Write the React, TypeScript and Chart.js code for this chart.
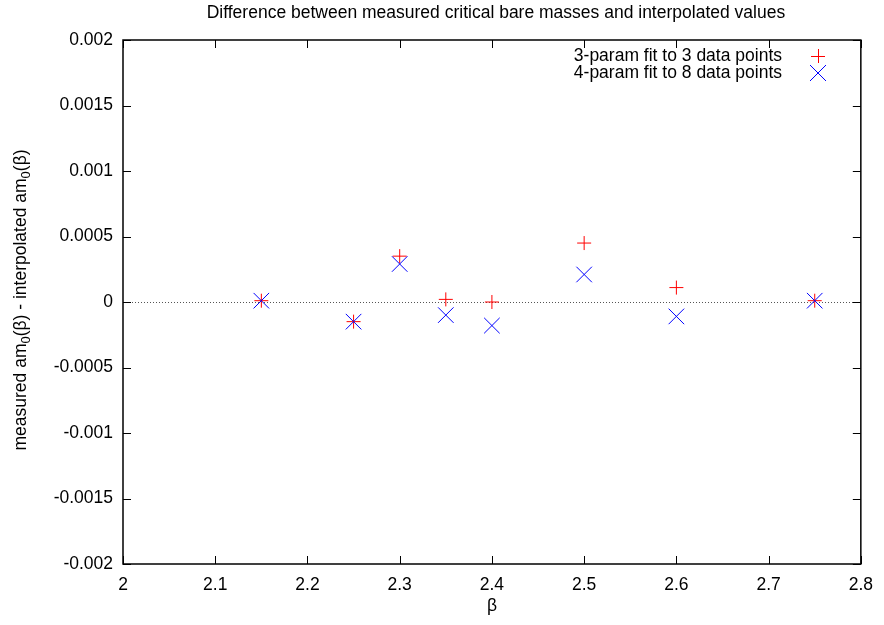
import React, { useEffect, useRef } from "react";
import { Chart, registerables } from "chart.js";
Chart.register(...registerables);

const betaValues = [2.15, 2.25, 2.3, 2.35, 2.4, 2.5, 2.6, 2.75];
const fit3Values = [0.00001, -0.00015, 0.00035, 0.00002, 0.0, 0.00045, 0.00011, 0.00001];
const fit4Values = [0.00001, -0.00015, 0.00029, -0.0001, -0.00018, 0.00021, -0.00011, 0.00001];
const xTicks = [2, 2.1, 2.2, 2.3, 2.4, 2.5, 2.6, 2.7, 2.8];
const xTickLabels = ["2", "2.1", "2.2", "2.3", "2.4", "2.5", "2.6", "2.7", "2.8"];
const yTicks = [-0.002, -0.0015, -0.001, -0.0005, 0, 0.0005, 0.001, 0.0015, 0.002];
const yTickLabels = ["-0.002", "-0.0015", "-0.001", "-0.0005", "0", "0.0005", "0.001", "0.0015", "0.002"];
const seriesNames = ["3-param fit to 3 data points", "4-param fit to 8 data points"];
const titleText = "Difference between measured critical bare masses and interpolated values";
const xTitle = "β";

const FONT = "Liberation Sans, Arial, sans-serif";
const FS = 17.5;

const framePlugin = {
  id: "gnuframe",
  beforeDatasetsDraw(chart: any) {
    const { ctx, chartArea: a, scales } = chart;
    const y0 = scales.y.getPixelForValue(0);
    ctx.save();
    ctx.strokeStyle = "#555";
    ctx.lineWidth = 1;
    ctx.setLineDash([1, 2]);
    ctx.beginPath();
    ctx.moveTo(a.left, Math.round(y0) + 0.5);
    ctx.lineTo(a.right, Math.round(y0) + 0.5);
    ctx.stroke();
    ctx.restore();
  },
  afterDraw(chart: any) {
    const { ctx, chartArea: a, scales } = chart;
    ctx.save();
    ctx.strokeStyle = "#000";
    ctx.lineWidth = 1;
    const tl = 8;
    ctx.beginPath();
    for (const v of xTicks) {
      const x = Math.round(scales.x.getPixelForValue(v)) + 0.5;
      ctx.moveTo(x, a.bottom);
      ctx.lineTo(x, a.bottom - tl);
      ctx.moveTo(x, a.top);
      ctx.lineTo(x, a.top + tl);
    }
    for (const v of yTicks) {
      const y = Math.round(scales.y.getPixelForValue(v)) + 0.5;
      ctx.moveTo(a.left, y);
      ctx.lineTo(a.left + tl, y);
      ctx.moveTo(a.right, y);
      ctx.lineTo(a.right - tl, y);
    }
    ctx.stroke();
    ctx.lineWidth = 1.5;
    ctx.strokeRect(a.left, a.top, a.right - a.left, a.bottom - a.top);

    // title
    ctx.fillStyle = "#000";
    ctx.font = `${FS}px ${FONT}`;
    ctx.textAlign = "center";
    ctx.textBaseline = "middle";
    ctx.fillText(titleText, (a.left + a.right) / 2 + 4, 13);
    // x title
    ctx.fillText(xTitle, (a.left + a.right) / 2, 606);

    // legend
    const rows = [56, 73];
    ctx.textAlign = "right";
    ctx.fillText(seriesNames[0], 782, rows[0]);
    ctx.fillText(seriesNames[1], 782, rows[1]);
    ctx.lineWidth = 1;
    ctx.strokeStyle = "#ff0000";
    ctx.beginPath();
    ctx.moveTo(811, rows[0] + 0.5);
    ctx.lineTo(825, rows[0] + 0.5);
    ctx.moveTo(818.5, rows[0] - 7);
    ctx.lineTo(818.5, rows[0] + 7);
    ctx.stroke();
    ctx.strokeStyle = "#0000ff";
    ctx.beginPath();
    ctx.moveTo(810, rows[1] - 8);
    ctx.lineTo(826, rows[1] + 8);
    ctx.moveTo(826, rows[1] - 8);
    ctx.lineTo(810, rows[1] + 8);
    ctx.stroke();

    // y label with subscripts
    const parts: [string, boolean][] = [
      ["measured am", false],
      ["0", true],
      ["(β) - interpolated am", false],
      ["0", true],
      ["(β)", false],
    ];
    const mainFont = `${FS}px ${FONT}`;
    const subFont = `13px ${FONT}`;
    let total = 0;
    for (const [t, sub] of parts) {
      ctx.font = sub ? subFont : mainFont;
      total += ctx.measureText(t).width;
    }
    ctx.translate(26, (a.top + a.bottom) / 2 - 2);
    ctx.rotate(-Math.PI / 2);
    ctx.textAlign = "left";
    ctx.textBaseline = "alphabetic";
    let x = -total / 2;
    for (const [t, sub] of parts) {
      ctx.font = sub ? subFont : mainFont;
      ctx.fillText(t, x, sub ? 4 : 0);
      x += ctx.measureText(t).width;
    }
    ctx.restore();
  },
};

export default function App() {
  const ref = useRef<HTMLCanvasElement | null>(null);
  useEffect(() => {
    if (!ref.current) return;
    const chart = new Chart(ref.current, {
      type: "scatter",
      data: {
        datasets: [
          {
            label: seriesNames[0],
            data: betaValues.map((b, i) => ({ x: b, y: fit3Values[i] })),
            pointStyle: "cross",
            pointRadius: 7,
            pointBorderColor: "#ff0000",
            pointBackgroundColor: "#ff0000",
            pointBorderWidth: 1,
            order: 2,
          },
          {
            label: seriesNames[1],
            data: betaValues.map((b, i) => ({ x: b, y: fit4Values[i] })),
            pointStyle: "crossRot",
            pointRadius: 11,
            pointBorderColor: "#0000ff",
            pointBackgroundColor: "#0000ff",
            pointBorderWidth: 1,
            order: 1,
          },
        ],
      },
      options: {
        animation: false,
        responsive: false,
        events: [],
        layout: { padding: { left: 0, top: 40, right: 20, bottom: 0 } },
        plugins: { legend: { display: false }, tooltip: { enabled: false }, title: { display: false } },
        scales: {
          x: {
            type: "linear",
            min: 2,
            max: 2.8,
            afterBuildTicks: (s: any) => {
              s.ticks = xTicks.map((v) => ({ value: v }));
            },
            afterFit: (s: any) => {
              s.height = 61;
            },
            grid: { display: false, drawTicks: false },
            border: { display: false },
            ticks: {
              color: "#000",
              font: { family: FONT, size: FS },
              padding: 11,
              maxRotation: 0,
              autoSkip: false,
              callback: (_v: any, i: number) => xTickLabels[i],
            },
          },
          y: {
            type: "linear",
            min: -0.002,
            max: 0.002,
            afterBuildTicks: (s: any) => {
              s.ticks = yTicks.map((v) => ({ value: v }));
            },
            afterFit: (s: any) => {
              s.width = 123;
            },
            grid: { display: false, drawTicks: false },
            border: { display: false },
            ticks: {
              color: "#000",
              font: { family: FONT, size: FS },
              padding: 10,
              autoSkip: false,
              callback: (_v: any, i: number) => yTickLabels[i],
            },
          },
        },
      },
      plugins: [framePlugin],
    });
    return () => chart.destroy();
  }, []);
  return (
    <div style={{ position: "fixed", left: 0, top: 0, width: 884, height: 625, background: "#fff" }}>
      <canvas ref={ref} width={884} height={625} style={{ display: "block" }} />
    </div>
  );
}
